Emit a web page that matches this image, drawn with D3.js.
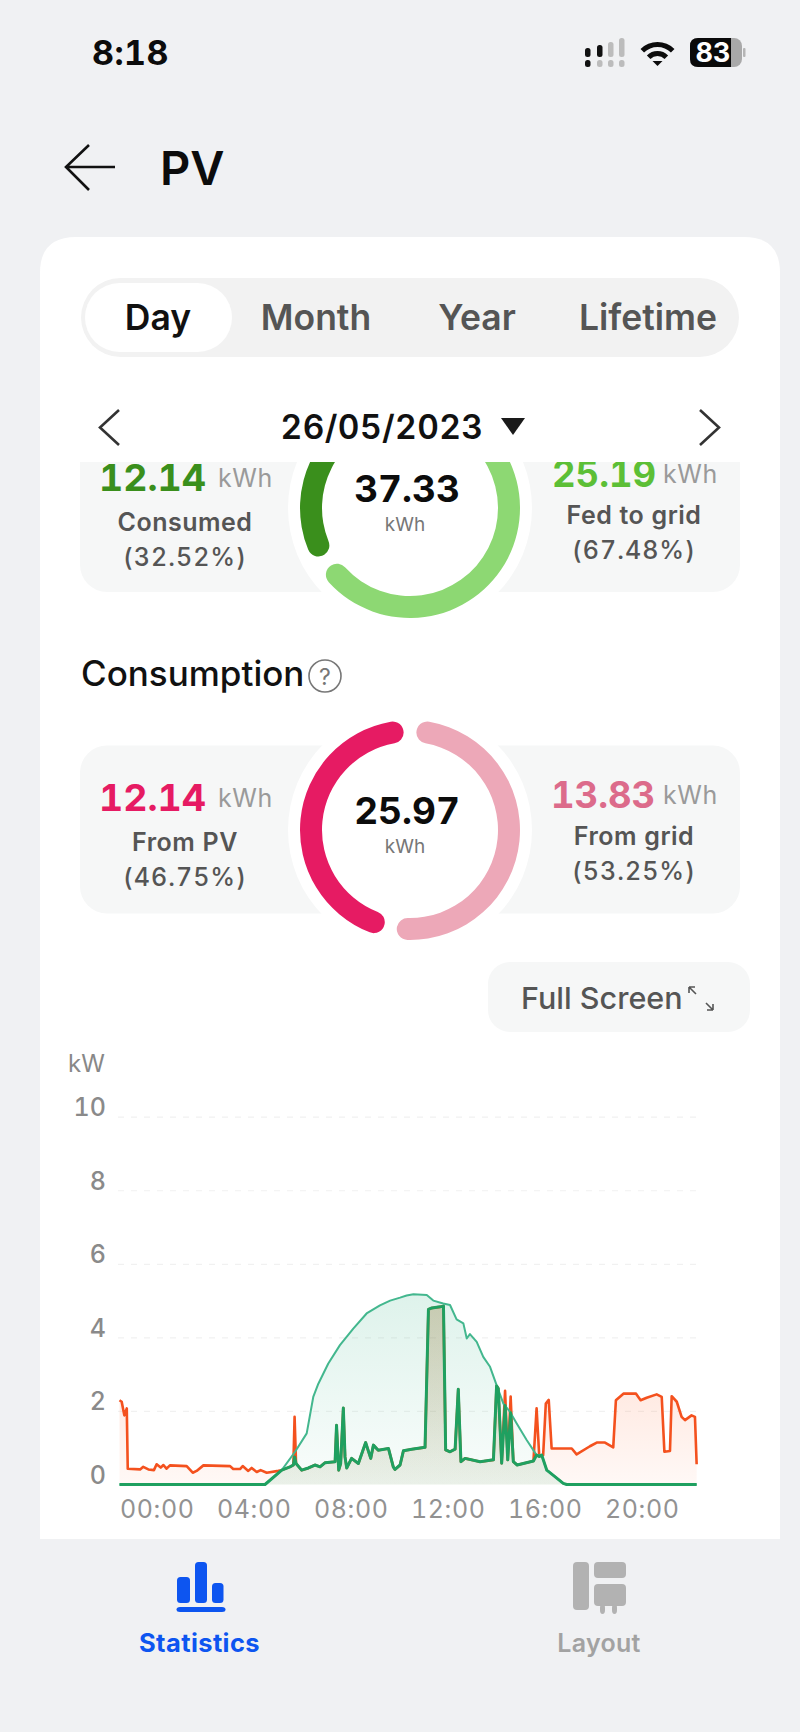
<!DOCTYPE html>
<html>
<head>
<meta charset="utf-8">
<script src="https://cdn.jsdelivr.net/npm/d3@7"></script>
<style>
  html, body { margin: 0; padding: 0; background: #f0f1f3; }
  svg { display: block; }
  text { font-family: Inter, "Noto Sans", sans-serif; font-variant-numeric: tabular-nums; }
</style>
</head>
<body>
<div id="chart"></div>
<script>
// values
var tabs = ["Day", "Month", "Year", "Lifetime"];
var dateLabel = "26/05/2023";

var yieldValues = [25.19, 12.14];
var yieldTotal = "37.33";
var consumptionValues = [13.83, 12.14];
var consumptionTotal = "25.97";

var yTicks = [0, 2, 4, 6, 8, 10];
var xTicks = [0, 4, 8, 12, 16, 20];
var xTickLabels = ["00:00", "04:00", "08:00", "12:00", "16:00", "20:00"];

// pv output, hour of day / kW
var pvHours = [0, 6, 6.69, 7.24, 7.72, 7.99, 8.2, 8.61, 9.09, 9.64, 10.19, 10.74, 11.16, 11.57, 11.84, 12.12, 12.67, 12.94, 13.35, 13.63, 13.9, 14.18, 14.32, 14.45, 14.73, 15, 15.28, 15.55, 15.83, 16.1, 16.38, 16.79, 17.2, 17.41, 17.62, 17.89, 18.3, 18.44, 23.8];
var pvPower = [0, 0, 0.39, 0.89, 1.39, 2.38, 2.74, 3.29, 3.79, 4.24, 4.65, 4.87, 5, 5.08, 5.14, 5.17, 5.15, 5, 4.92, 4.88, 4.49, 4.38, 3.97, 4.09, 3.88, 3.47, 3.2, 2.7, 2.2, 1.98, 1.66, 1.21, 0.8, 0.8, 0.39, 0.25, 0.03, 0, 0];

// consumption
var loadHours = [0, 0.09, 0.2, 0.3, 0.34, 0.85, 0.98, 1.19, 1.42, 1.53, 1.7, 1.81, 1.94, 2.08, 2.77, 3.02, 3.18, 3.46, 4.56, 4.69, 4.97, 5.08, 5.31, 5.45, 5.66, 5.82, 6.07, 6.55, 6.69, 7.03, 7.17, 7.22, 7.28, 7.51, 7.79, 8.06, 8.27, 8.47, 8.89, 8.95, 9.04, 9.12, 9.23, 9.3, 9.37, 9.57, 9.85, 10.15, 10.36, 10.47, 10.67, 11.09, 11.29, 11.36, 11.57, 11.71, 12.05, 12.6, 12.74, 12.88, 13.22, 13.36, 13.45, 13.63, 13.84, 13.97, 14.08, 14.25, 14.87, 15.42, 15.55, 15.62, 15.76, 15.9, 16.01, 16.13, 16.24, 16.4, 17.07, 17.2, 17.31, 17.47, 17.58, 17.7, 17.82, 18.37, 18.65, 18.85, 19.4, 19.68, 20.02, 20.36, 20.47, 20.78, 21.3, 21.49, 21.74, 22.15, 22.36, 22.47, 22.7, 22.77, 22.98, 23.18, 23.32, 23.59, 23.73, 23.8];
var loadPower = [2.29, 2.25, 1.88, 2.07, 0.43, 0.41, 0.48, 0.41, 0.39, 0.55, 0.46, 0.53, 0.43, 0.52, 0.5, 0.32, 0.37, 0.52, 0.5, 0.42, 0.42, 0.5, 0.37, 0.45, 0.34, 0.39, 0.32, 0.37, 0.39, 0.48, 0.53, 1.84, 0.57, 0.39, 0.45, 0.53, 0.48, 0.59, 0.62, 1.61, 0.39, 0.57, 2.08, 0.75, 0.45, 0.71, 0.57, 1.14, 0.71, 1.07, 0.93, 0.98, 0.48, 0.41, 0.53, 0.92, 0.96, 1.01, 4.76, 4.8, 4.83, 4.85, 0.94, 0.89, 0.96, 2.59, 0.62, 0.71, 0.62, 0.67, 2.68, 2.61, 0.58, 2.55, 0.67, 2.39, 0.62, 0.53, 0.64, 2.07, 0.76, 0.8, 2.2, 2.3, 0.98, 0.98, 0.98, 0.82, 1.04, 1.14, 1.14, 1.01, 2.29, 2.47, 2.47, 2.29, 2.36, 2.45, 2.38, 0.89, 0.91, 2.4, 2.25, 1.84, 1.75, 1.88, 1.84, 0.55];

// consumption covered by pv
var selfHours = [0, 6, 6.69, 7.03, 7.17, 7.22, 7.28, 7.51, 7.79, 8.06, 8.27, 8.47, 8.89, 8.95, 9.04, 9.12, 9.23, 9.3, 9.37, 9.57, 9.85, 10.15, 10.36, 10.47, 10.67, 11.09, 11.29, 11.36, 11.57, 11.71, 12.05, 12.6, 12.74, 12.88, 13.22, 13.36, 13.45, 13.63, 13.84, 13.97, 14.08, 14.25, 14.87, 15.42, 15.55, 15.62, 15.76, 15.9, 16.01, 16.13, 16.24, 16.4, 17.07, 17.2, 17.31, 17.41, 17.62, 17.89, 18.3, 18.44, 23.8];
var selfPower = [0, 0, 0.39, 0.48, 0.53, 0.75, 0.57, 0.39, 0.45, 0.53, 0.48, 0.59, 0.62, 1.61, 0.39, 0.57, 2.08, 0.75, 0.45, 0.71, 0.57, 1.14, 0.71, 1.07, 0.93, 0.98, 0.48, 0.41, 0.53, 0.92, 0.96, 1.01, 4.76, 4.8, 4.83, 4.85, 0.94, 0.89, 0.96, 2.59, 0.62, 0.71, 0.62, 0.67, 2.68, 2.61, 0.58, 2.15, 0.67, 1.95, 0.62, 0.53, 0.64, 0.8, 0.76, 0.8, 0.39, 0.25, 0.03, 0, 0];

function zip(hours, power) {
    return hours.map(function(h, i) { return {h: h, v: power[i]}; });
}
var pvData = zip(pvHours, pvPower);
var loadData = zip(loadHours, loadPower);
var selfData = zip(selfHours, selfPower);

var svg = d3.select("#chart").append("svg")
    .attr("width", 800)
    .attr("height", 1732);

function label(parent, txt, x, y, size, weight, color, anchor, spacing) {
    return parent.append("text")
        .attr("x", x)
        .attr("y", y)
        .attr("font-size", size)
        .attr("font-weight", weight)
        .attr("fill", color)
        .attr("text-anchor", anchor || "start")
        .attr("letter-spacing", spacing || 0)
        .text(txt);
}

svg.append("rect").attr("width", 800).attr("height", 1732).attr("fill", "#f0f1f3");

// ---------- status bar ----------
var statusBar = svg.append("g");
label(statusBar, "8:18", 92, 65, 34, 700, "#0c0c0c", "start", 0.5);

var signalBars = [
    {x: 585, y: 48, h: 9, c: "#111"}, {x: 597, y: 45, h: 12, c: "#111"},
    {x: 608, y: 42, h: 15, c: "#bcbcbc"}, {x: 619, y: 38, h: 19, c: "#bcbcbc"},
    {x: 585, y: 60, h: 7, c: "#111"}, {x: 597, y: 60, h: 7, c: "#bcbcbc"},
    {x: 608, y: 60, h: 7, c: "#bcbcbc"}, {x: 619, y: 60, h: 7, c: "#bcbcbc"}
];
statusBar.selectAll(".sig").data(signalBars).enter().append("rect")
    .attr("class", "sig")
    .attr("x", function(d) { return d.x; })
    .attr("y", function(d) { return d.y; })
    .attr("width", 5.5)
    .attr("height", function(d) { return d.h; })
    .attr("rx", 2.5)
    .attr("fill", function(d) { return d.c; });

var wifi = statusBar.append("g").attr("transform", "translate(657.5,66)");
[[19, 24], [10, 15]].forEach(function(r) {
    wifi.append("path")
        .attr("d", d3.arc().innerRadius(r[0]).outerRadius(r[1]).startAngle(-Math.PI / 4).endAngle(Math.PI / 4)())
        .attr("fill", "#0c0c0c");
});
wifi.append("path").attr("d", "M-5,-5 L5,-5 L0,0 Z").attr("fill", "#0c0c0c");

statusBar.append("rect").attr("x", 690).attr("y", 38).attr("width", 52).attr("height", 29).attr("rx", 8).attr("fill", "#a9a9a9");
statusBar.append("path").attr("d", "M698,38 H731 V67 H698 Q690,67 690,59 V46 Q690,38 698,38 Z").attr("fill", "#0a0a0a");
statusBar.append("rect").attr("x", 743).attr("y", 48).attr("width", 2.5).attr("height", 9).attr("rx", 1).attr("fill", "#b5b5b5");
label(statusBar, "83", 713, 61.5, 27, 700, "#fff", "middle");

// ---------- header ----------
var header = svg.append("g");
header.append("path")
    .attr("d", "M115,167 H66 M89,145 L66,167 L89,190")
    .attr("fill", "none")
    .attr("stroke", "#111")
    .attr("stroke-width", 2.6);
label(header, "PV", 160, 185, 47, 600, "#0c0c0c");

// ---------- card ----------
svg.append("path")
    .attr("d", "M40,1539 V273 Q40,237 76,237 H744 Q780,237 780,273 V1539 Z")
    .attr("fill", "#fff");

var tabX = [158, 316, 477, 648];
svg.append("rect").attr("x", 81).attr("y", 278).attr("width", 658).attr("height", 79).attr("rx", 39.5).attr("fill", "#f2f2f2");
svg.append("rect").attr("x", 85).attr("y", 283).attr("width", 147).attr("height", 69).attr("rx", 34.5).attr("fill", "#fff");
tabs.forEach(function(t, i) {
    label(svg, t, tabX[i], 330, 35.5, 600, i == 0 ? "#111" : "#555", "middle");
});

label(svg, dateLabel, 382, 439, 33.5, 600, "#111", "middle", 0.4);
svg.append("path").attr("d", "M501,418 H525 L513,435 Z").attr("fill", "#1a1a1a");
svg.append("path").attr("d", "M119,410 L100,427.5 L119,445 M700,410 L719,427.5 L700,445")
    .attr("fill", "none").attr("stroke", "#333").attr("stroke-width", 2.6);

// ---------- summary panels ----------
svg.append("defs").append("clipPath").attr("id", "panelClip")
    .append("rect").attr("x", 0).attr("y", 462).attr("width", 800).attr("height", 1270);

var arc = d3.arc().innerRadius(88).outerRadius(110).cornerRadius(11);

function panel(top, height, cy, values, colors, startAngle, total, left, right) {
    var g = svg.append("g").attr("clip-path", "url(#panelClip)");
    g.append("rect").attr("x", 80).attr("y", top).attr("width", 660).attr("height", height).attr("rx", 27).attr("fill", "#f6f7f7");
    g.append("circle").attr("cx", 410).attr("cy", cy).attr("r", 122).attr("fill", "#fff");

    var pie = d3.pie().sort(null).padAngle(0.09)
        .startAngle(startAngle)
        .endAngle(startAngle + 2 * Math.PI);
    g.append("g").attr("transform", "translate(410," + cy + ")")
      .selectAll("path")
      .data(pie(values))
      .enter()
      .append("path")
        .attr("d", arc)
        .attr("fill", function(d, i) { return colors[i]; });

    label(g, total, 407, cy - 6, 37, 700, "#0c0c0c", "middle");
    label(g, "kWh", 405, cy + 23, 19, 400, "#777", "middle");

    [left, right].forEach(function(s) {
        label(g, s.value, s.x, s.base, s.size, 700, s.color, "start");
        label(g, "kWh", s.unitX, s.base - 4, 25, 400, "#9a9a9a", "start", 0.6);
        label(g, s.name, s.mid, s.base + s.nameDy, 25, 600, "#555", "middle", 0.5);
        label(g, s.pct, s.mid, s.base + s.nameDy + 35, 25, 500, "#555", "middle", 1);
    });
}

panel(424, 168, 508, yieldValues, ["#8dd873", "#3a8f1c"], -0.06, yieldTotal,
    {value: "12.14", unitX: 218, x: 99, size: 37.5, mid: 185, base: 491, nameDy: 40, color: "#3a8f1c", name: "Consumed", pct: "(32.52%)"},
    {value: "25.19", unitX: 663, x: 552, size: 36.5, mid: 634, base: 487, nameDy: 37, color: "#5cbf36", name: "Fed to grid", pct: "(67.48%)"});

label(svg, "Consumption", 81, 686, 35, 500, "#111", "start");
svg.append("circle").attr("cx", 325).attr("cy", 676).attr("r", 16).attr("fill", "none").attr("stroke", "#777").attr("stroke-width", 1.6);
label(svg, "?", 325, 684.5, 23, 400, "#777", "middle");

panel(745.5, 168, 830, consumptionValues, ["#eda8b8", "#e61b63"], 0, consumptionTotal,
    {value: "12.14", unitX: 218, x: 99, size: 37.5, mid: 185, base: 810.5, nameDy: 40, color: "#e61b63", name: "From PV", pct: "(46.75%)"},
    {value: "13.83", unitX: 663, x: 551, size: 36.5, mid: 634, base: 808, nameDy: 37, color: "#dc6b8b", name: "From grid", pct: "(53.25%)"});

// ---------- full screen button ----------
svg.append("rect").attr("x", 488).attr("y", 962).attr("width", 262).attr("height", 70).attr("rx", 22).attr("fill", "#f6f7f7");
label(svg, "Full Screen", 521, 1009, 30.5, 500, "#555", "start");
svg.append("path")
    .attr("d", "M689,987 h6 M689,987 v6 M689,987 l7,7 M713,1010 h-6 M713,1010 v-6 M713,1010 l-7,-7")
    .attr("fill", "none").attr("stroke", "#555").attr("stroke-width", 1.6);

// ---------- power chart ----------
var x = d3.scaleLinear().domain([0, 24]).range([119.5, 701.5]);
var y = d3.scaleLinear().domain([0, 10]).range([1484.5, 1116.7]);

label(svg, "kW", 68, 1072, 24, 400, "#888");

var yAxis = svg.append("g")
    .attr("transform", "translate(118,0)")
    .call(d3.axisLeft(y).tickValues(yTicks).tickSize(-580).tickPadding(12));
yAxis.select(".domain").remove();
yAxis.selectAll("line")
    .attr("stroke", "#f1f1f1")
    .attr("stroke-width", 1.2)
    .attr("stroke-dasharray", "6 7");
yAxis.selectAll(".tick").filter(function(d) { return d == 0; }).select("line").remove();
yAxis.selectAll("text")
    .attr("dy", "-1")
    .attr("font-family", "Inter")
    .attr("font-size", 25)
    .attr("font-weight", 500)
    .attr("fill", "#8a8a8a");

var defs = svg.select("defs");
function gradient(id, rgb, top, bottom) {
    var g = defs.append("linearGradient").attr("id", id)
        .attr("gradientUnits", "userSpaceOnUse")
        .attr("x1", 0).attr("x2", 0)
        .attr("y1", y(5.2)).attr("y2", y(0));
    g.append("stop").attr("offset", 0).attr("stop-color", rgb).attr("stop-opacity", top);
    g.append("stop").attr("offset", 1).attr("stop-color", rgb).attr("stop-opacity", bottom);
}
gradient("pvFill", "#3db58a", 0.17, 0.03);
gradient("loadFill", "#ff5a1f", 0.22, 0.04);
gradient("selfFill", "#1fa060", 0.16, 0.07);

var area = d3.area()
    .x(function(d) { return x(d.h); })
    .y0(y(0))
    .y1(function(d) { return y(d.v); });
var line = d3.line()
    .x(function(d) { return x(d.h); })
    .y(function(d) { return y(d.v); });

svg.append("path").datum(pvData).attr("d", area).attr("fill", "url(#pvFill)");
svg.append("path").datum(loadData).attr("d", area).attr("fill", "url(#loadFill)");
svg.append("path").datum(selfData).attr("d", area).attr("fill", "url(#selfFill)");

svg.append("path").datum(loadData).attr("d", line)
    .attr("fill", "none").attr("stroke", "#f4511e").attr("stroke-width", 2.6).attr("stroke-linejoin", "round");
svg.append("path").datum(pvData).attr("d", line)
    .attr("fill", "none").attr("stroke", "#43b78e").attr("stroke-width", 2).attr("stroke-linejoin", "round");
svg.append("path").datum(selfData).attr("d", line)
    .attr("fill", "none").attr("stroke", "#1fa060").attr("stroke-width", 3).attr("stroke-linejoin", "round");

var xAxis = svg.append("g")
    .attr("transform", "translate(0,1484.5)")
    .call(d3.axisBottom(x).tickValues(xTicks).tickSize(0).tickFormat(function(d, i) { return xTickLabels[i]; }));
xAxis.select(".domain").remove();
xAxis.selectAll("text")
    .attr("text-anchor", "start")
    .attr("y", 33)
    .attr("dy", 0)
    .attr("font-family", "Inter")
    .attr("font-size", 25)
    .attr("font-weight", 400)
    .attr("letter-spacing", 0.6)
    .attr("fill", "#929292");

// ---------- bottom nav ----------
var statBars = [[177, 1577, 13, 26], [195, 1562, 12, 41], [212, 1583, 11.5, 20], [176.5, 1607, 49, 5]];
svg.selectAll(".nav").data(statBars).enter().append("rect")
    .attr("class", "nav")
    .attr("x", function(d) { return d[0]; })
    .attr("y", function(d) { return d[1]; })
    .attr("width", function(d) { return d[2]; })
    .attr("height", function(d) { return d[3]; })
    .attr("rx", 3.5)
    .attr("fill", "#0d55f0");
label(svg, "Statistics", 199.5, 1652, 25.5, 700, "#0d55f0", "middle", 0.4);

var layoutBlocks = [[573, 1562, 16, 48], [594, 1562, 32, 16], [594, 1584, 32, 22], [600, 1604, 5, 10], [612, 1604, 5, 10]];
svg.selectAll(".lay").data(layoutBlocks).enter().append("rect")
    .attr("class", "lay")
    .attr("x", function(d) { return d[0]; })
    .attr("y", function(d) { return d[1]; })
    .attr("width", function(d) { return d[2]; })
    .attr("height", function(d) { return d[3]; })
    .attr("rx", 4)
    .attr("fill", "#b2b2b2");
label(svg, "Layout", 599, 1652, 25, 600, "#a2a2a2", "middle", 0.3);
</script>
</body>
</html>
